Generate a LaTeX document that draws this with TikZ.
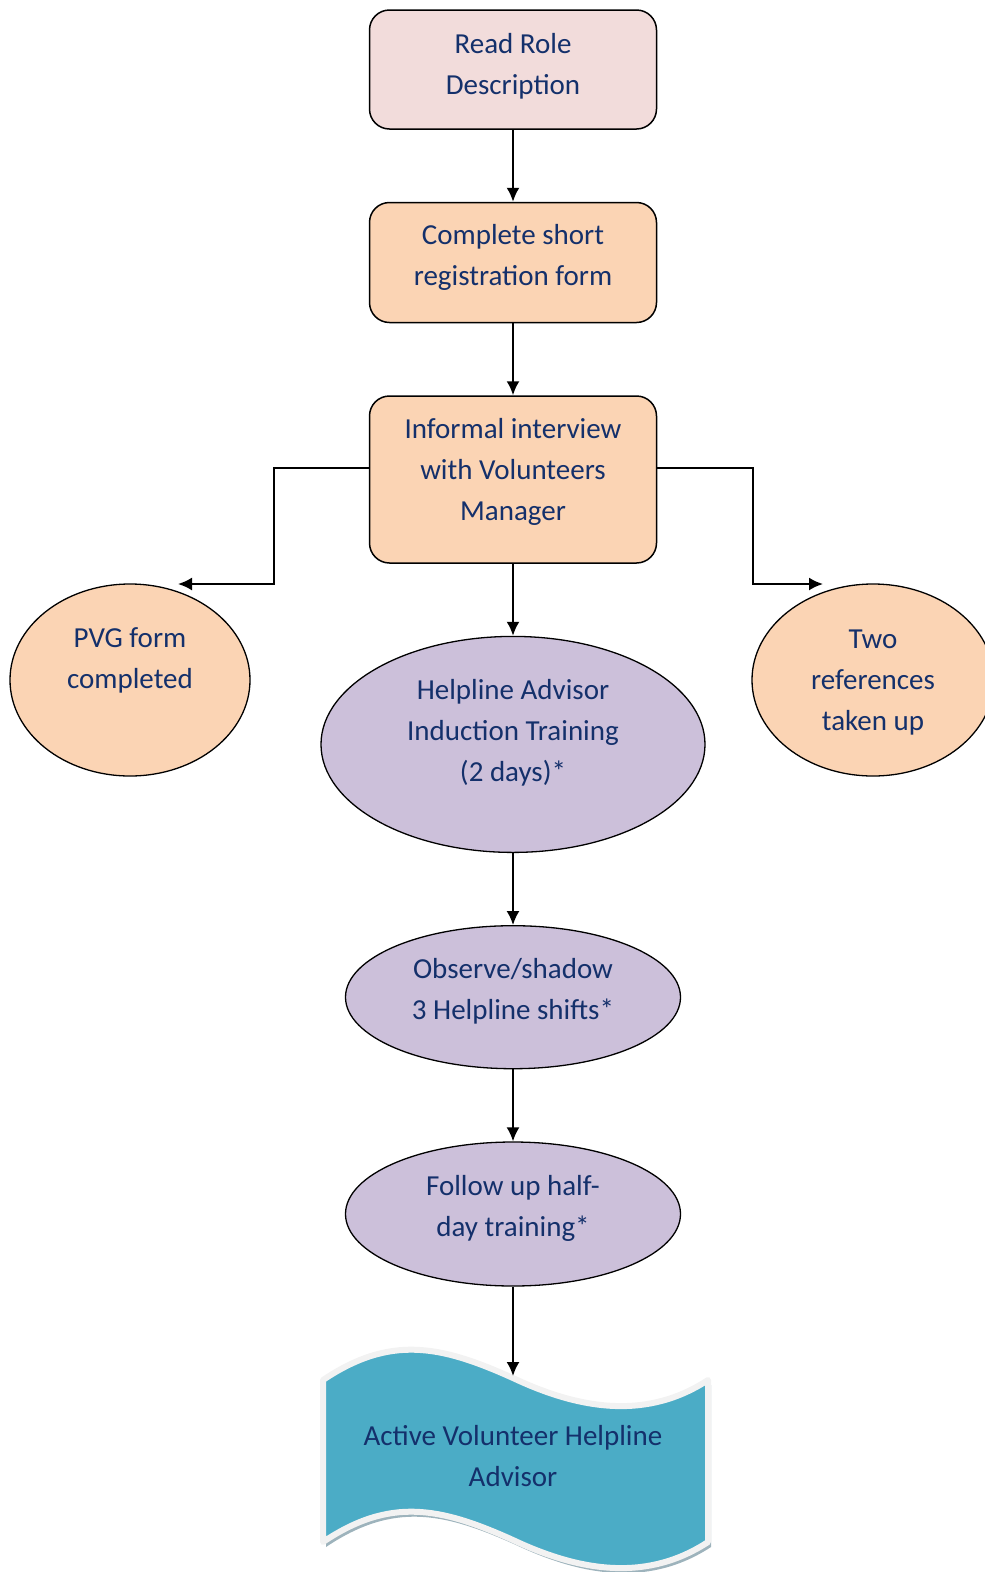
\documentclass[tikz,border=0pt]{standalone}
\usepackage{fontspec}
\setmainfont{Carlito}
\usepackage{tikz}
\usetikzlibrary{positioning,arrows.meta,shapes.geometric}
\definecolor{navytext}{HTML}{14306B}
\definecolor{pinkfill}{HTML}{F2DCDB}
\definecolor{peachfill}{HTML}{FBD4B4}
\definecolor{lilacfill}{HTML}{CCC0DA}
\definecolor{tealfill}{HTML}{4BACC6}
\definecolor{waveedge}{HTML}{F2F2F2}
\definecolor{waveshadow}{HTML}{9DB3BC}
\tikzset{
  box/.style={rectangle, rounded corners=20pt, draw, line width=1.5pt, minimum width=287pt,
              text=navytext, font=\fontsize{29}{41}\selectfont, align=center, text depth=16pt},
  oval/.style={ellipse, draw, line width=1.3pt, inner sep=0pt, text depth=16pt,
               text=navytext, font=\fontsize{29}{41}\selectfont, align=center},
  pink/.style={fill=pinkfill},
  peach/.style={fill=peachfill},
  lilac/.style={fill=lilacfill},
  fwd/.style={-{Latex[length=14pt,width=13pt]}, line width=2pt},
  wavetext/.style={text=navytext, font=\fontsize{29}{41}\selectfont, align=center},
}
\newcommand\wavepath{(323,1380) .. controls (390,1335) and (440,1345) .. (513,1378)
  .. controls (585,1412) and (650,1418) .. (708,1380) -- (708,1542)
  .. controls (650,1580) and (585,1574) .. (513,1540)
  .. controls (440,1507) and (390,1497) .. (323,1542) -- cycle}

\begin{document}
\begin{tikzpicture}[x=1pt, y=-1pt, node distance=72pt]
  \useasboundingbox (0,0) rectangle (985,1572);

  % steps down the middle
  \node[box, pink, minimum height=119pt, text depth=12pt] (role) at (513,69.5) {Read Role\\Description};
  \node[box, peach, minimum height=120pt] (regform) [below=of role] {Complete short\\registration form};
  \node[box, peach, minimum height=167pt, text depth=20pt] (interview) [below=of regform] {Informal interview\\with Volunteers\\Manager};
  \node[oval, lilac, minimum width=384pt, minimum height=216pt, text depth=27pt] (induction) [below=of interview] {Helpline Advisor\\Induction Training\\(2 days)*};
  \node[oval, lilac, minimum width=335pt, minimum height=143pt] (observe) [below=of induction] {Observe/shadow\\3 Helpline shifts*};
  \node[oval, lilac, minimum width=335pt, minimum height=144pt] (followup) [below=of observe] {Follow up half-\\day training*};

  % side checks
  \node[oval, peach, minimum width=240pt, minimum height=192pt, text depth=2pt] (pvg) at (130,680) {PVG form\\completed\\\mbox{}};
  \node[oval, peach, minimum width=242pt, minimum height=192pt, text depth=0pt] (refs) at (873,680) {Two\\references\\taken up};

  % end state
  \fill[waveshadow, shift={(3,5)}] \wavepath;
  \draw[waveedge, line width=6pt, fill=tealfill, line join=round] \wavepath;
  \node[wavetext] (active) at (513,1456) {Active Volunteer Helpline\\Advisor};
  \coordinate (wavetop) at (513,1376);

  \coordinate (pvgbend) at (274,584);
  \coordinate (pvgtip) at (178,584);
  \coordinate (refsbend) at (753,584);
  \coordinate (refstip) at (823,584);

  \draw[fwd] (role) -- (regform);
  \draw[fwd] (regform) -- (interview);
  \draw[fwd] (interview) -- (induction);
  \draw[fwd] (induction) -- (observe);
  \draw[fwd] (observe) -- (followup);
  \draw[fwd] (followup) -- (wavetop);
  \draw[fwd] ([yshift=12pt]interview.west) -| (pvgbend) -- (pvgtip);
  \draw[fwd] ([yshift=12pt]interview.east) -| (refsbend) -- (refstip);
\end{tikzpicture}
\end{document}
